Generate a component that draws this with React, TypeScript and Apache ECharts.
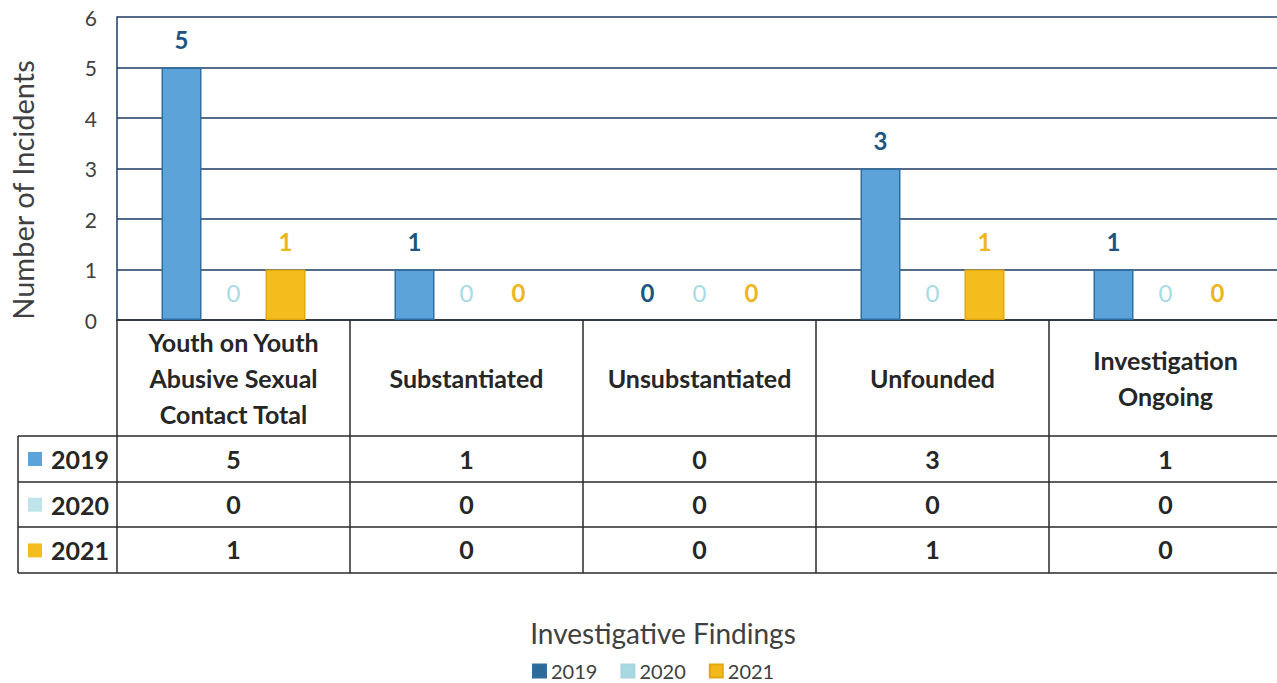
import React, { useEffect, useRef } from "react";
import * as echarts from "echarts";

const categories = [
  "Youth on Youth\nAbusive Sexual\nContact Total",
  "Substantiated",
  "Unsubstantiated",
  "Unfounded",
  "Investigation\nOngoing",
];
const years = ["2019", "2020", "2021"];
const values2019 = [5, 1, 0, 3, 1];
const values2020 = [0, 0, 0, 0, 0];
const values2021 = [1, 0, 0, 1, 0];
const yTicks = [0, 1, 2, 3, 4, 5, 6];

const FONT = "Lato";
const NAVY = "#1b3a63";
const TXT = "#262626";

export default function App() {
  const ref = useRef<HTMLDivElement>(null);
  useEffect(() => {
    document.body.style.margin = "0";
    document.body.style.overflow = "hidden";
    if (!ref.current) return;
    const chart = echarts.init(ref.current, undefined, { renderer: "svg" });
    const seriesData = [values2019, values2020, values2021];
    const barFill = ["#5ba3d9", "#bfe3ea", "#f2bd1d"];
    const barBorder = ["#2f6f9f", "#a6d6e0", "#e0a910"];
    const labelColor = ["#1d5582", "#a6dbe6", "#eeb51f"];
    const labelWeight = ["bold", "normal", "bold"];
    const legendColor = ["#2c6a99", "#a8d8e0", "#f2b81e"];
    const rowMargins = [139, 184, 229];

    const tableLinesY = [436, 482, 527, 573];
    const graphics: any[] = [];
    tableLinesY.forEach((y) =>
      graphics.push({
        type: "line",
        shape: { x1: 18, y1: y, x2: 1282, y2: y },
        style: { stroke: "#2a2a2a", lineWidth: 1.5 },
      })
    );
    graphics.push({
      type: "line",
      shape: { x1: 18, y1: 436, x2: 18, y2: 573 },
      style: { stroke: "#2a2a2a", lineWidth: 1.5 },
    });
    years.forEach((yr, i) => {
      const cy = 436 + 45.7 * i + 23;
      graphics.push({
        type: "rect",
        shape: { x: 28, y: cy - 7, width: 14, height: 14 },
        style: { fill: barFill[i] },
      });
      graphics.push({
        type: "text",
        x: 51,
        y: cy,
        style: {
          text: yr,
          font: `bold 25px ${FONT}`,
          fill: TXT,
          textAlign: "left",
          textVerticalAlign: "middle",
        },
      });
    });
    graphics.push({
      type: "text",
      x: 22,
      y: 190,
      rotation: Math.PI / 2,
      style: {
        text: "Number of Incidents",
        font: `29px ${FONT}`,
        fill: "#404040",
        textAlign: "center",
        textVerticalAlign: "middle",
      },
    });
    graphics.push({
      type: "text",
      x: 663,
      y: 633,
      style: {
        text: "Investigative Findings",
        font: `28px ${FONT}`,
        fill: "#404040",
        textAlign: "center",
        textVerticalAlign: "middle",
      },
    });

    const xAxes: any[] = [
      {
        type: "category",
        data: categories,
        position: "bottom",
        axisLine: { show: true, lineStyle: { color: "#2a2a2a", width: 1.5 } },
        axisTick: {
          show: true,
          length: 253,
          interval: 0,
          lineStyle: { color: "#2a2a2a", width: 1.5 },
        },
        axisLabel: {
          interval: 0,
          margin: 58,
          verticalAlign: "middle",
          lineHeight: 36,
          fontFamily: FONT,
          fontWeight: "bold",
          fontSize: 25,
          color: TXT,
        },
      },
    ];
    seriesData.forEach((arr, i) => {
      xAxes.push({
        type: "category",
        data: categories,
        position: "bottom",
        axisLine: { show: false },
        axisTick: { show: false },
        axisLabel: {
          interval: 0,
          margin: rowMargins[i],
          verticalAlign: "middle",
          fontFamily: FONT,
          fontWeight: "bold",
          fontSize: 25,
          color: TXT,
          formatter: (_v: string, idx: number) => String(arr[idx]),
        },
      });
    });

    chart.setOption({
      animation: false,
      grid: { left: 117, right: 0, top: 17, bottom: 363, containLabel: false },
      xAxis: xAxes,
      yAxis: {
        type: "value",
        min: yTicks[0],
        max: yTicks[yTicks.length - 1],
        interval: 1,
        axisLine: { show: true, lineStyle: { color: NAVY, width: 1.5 } },
        axisTick: { show: false },
        splitLine: { lineStyle: { color: NAVY, width: 1.5 } },
        axisLabel: { fontFamily: FONT, fontSize: 21, color: "#404040", margin: 20 },
      },
      legend: {
        left: 532,
        top: 661,
        padding: 0,
        itemWidth: 13,
        itemHeight: 13,
        itemGap: 23,
        icon: "rect",
        textStyle: { fontFamily: FONT, fontSize: 20, color: "#404040" },
        data: years.map((y, i) => ({ name: y, itemStyle: { color: legendColor[i] } })),
      },
      series: seriesData.map((arr, i) => ({
        type: "bar",
        name: years[i],
        xAxisIndex: 0,
        data: arr.map((v) => ({
          value: v,
          itemStyle: { borderWidth: v > 0 ? 1.5 : 0 },
        })),
        barWidth: 40,
        barGap: "30%",
        itemStyle: { color: barFill[i], borderColor: barBorder[i], borderWidth: 1.5 },
        label: {
          show: true,
          position: "top",
          distance: 16,
          fontFamily: FONT,
          fontSize: 24,
          fontWeight: labelWeight[i],
          color: labelColor[i],
        },
      })),
      graphic: graphics,
    });
    return () => chart.dispose();
  }, []);
  return <div ref={ref} style={{ width: 1282, height: 683 }} />;
}
